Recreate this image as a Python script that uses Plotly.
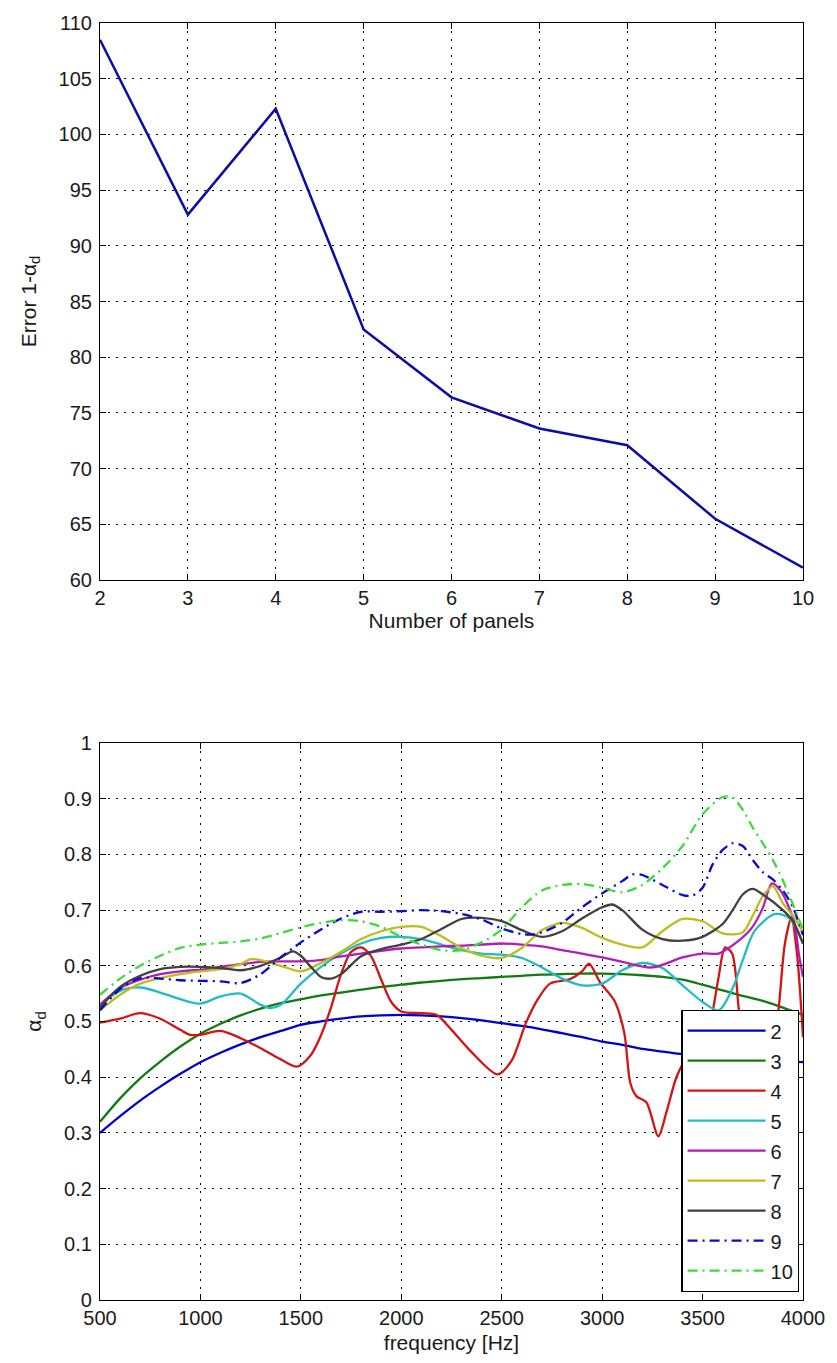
import plotly.graph_objects as go

# ---- top panel: error vs. number of panels ----
panels = [2, 3, 4, 5, 6, 7, 8, 9, 10]
error_vals = [108.5, 92.8, 102.3, 82.5, 76.4, 73.6, 72.1, 65.5, 61.1]

# ---- bottom panel: absorption coefficient vs. frequency, one curve per panel count ----
f2 = [500, 600, 700, 800, 900, 1000, 1100, 1200, 1300, 1400, 1500, 1600, 1700, 1800,
      1900, 2000, 2100, 2200, 2300, 2400, 2500, 2600, 2700, 2800, 2900, 3000, 3100,
      3200, 3300, 3400, 3500, 3600, 3700, 3800, 3900, 4000]
a2 = [0.300, 0.330, 0.358, 0.383, 0.406, 0.427, 0.444, 0.459, 0.472, 0.483, 0.494, 0.500,
      0.505, 0.509, 0.511, 0.512, 0.511, 0.509, 0.506, 0.502, 0.497, 0.492, 0.486, 0.479,
      0.472, 0.464, 0.458, 0.451, 0.446, 0.441, 0.437, 0.434, 0.432, 0.430, 0.429, 0.427]

f3 = f2
a3 = [0.320, 0.362, 0.398, 0.428, 0.455, 0.478, 0.496, 0.511, 0.523, 0.533, 0.540, 0.547,
      0.552, 0.557, 0.562, 0.566, 0.570, 0.573, 0.576, 0.578, 0.580, 0.582, 0.584, 0.585,
      0.586, 0.586, 0.585, 0.583, 0.580, 0.575, 0.566, 0.556, 0.546, 0.537, 0.525, 0.512]

f4 = [500, 600, 700, 800, 900, 950, 1000, 1100, 1200, 1300, 1400, 1480, 1550, 1600, 1650,
      1700, 1750, 1800, 1850, 1900, 1950, 2000, 2100, 2175, 2250, 2350, 2480, 2550, 2620,
      2680, 2740, 2840, 2900, 2935, 2990, 3060, 3110, 3140, 3170, 3220, 3280, 3320, 3370,
      3430, 3500, 3540, 3580, 3612, 3647, 3681, 3720, 3780, 3840, 3878, 3910, 3942, 3970, 4000]
a4 = [0.498, 0.505, 0.515, 0.505, 0.485, 0.476, 0.476, 0.483, 0.470, 0.452, 0.432, 0.419,
      0.440, 0.475, 0.525, 0.585, 0.625, 0.633, 0.617, 0.575, 0.535, 0.518, 0.515, 0.512,
      0.485, 0.445, 0.405, 0.430, 0.497, 0.540, 0.568, 0.576, 0.590, 0.604, 0.570, 0.538,
      0.480, 0.390, 0.366, 0.355, 0.294, 0.337, 0.400, 0.440, 0.460, 0.500, 0.580, 0.633,
      0.622, 0.520, 0.420, 0.380, 0.420, 0.520, 0.640, 0.686, 0.622, 0.472]

f5 = [500, 600, 700, 800, 900, 1000, 1100, 1200, 1300, 1350, 1400, 1500, 1600, 1700, 1800,
      1900, 2000, 2100, 2200, 2300, 2400, 2500, 2600, 2700, 2800, 2900, 3000, 3100, 3200,
      3300, 3400, 3500, 3580, 3650, 3700, 3760, 3860, 3930, 4000]
a5 = [0.530, 0.555, 0.561, 0.552, 0.540, 0.532, 0.545, 0.550, 0.530, 0.524, 0.530, 0.568,
      0.598, 0.622, 0.640, 0.650, 0.652, 0.648, 0.638, 0.628, 0.622, 0.620, 0.614, 0.597,
      0.577, 0.565, 0.568, 0.592, 0.605, 0.596, 0.565, 0.535, 0.520, 0.560, 0.610, 0.663,
      0.693, 0.686, 0.640]

f6 = [500, 600, 700, 800, 900, 1000, 1100, 1200, 1300, 1400, 1500, 1600, 1700, 1800, 1900,
      2000, 2100, 2200, 2300, 2400, 2500, 2600, 2700, 2800, 2900, 3000, 3100, 3250, 3400,
      3500, 3580, 3680, 3745, 3800, 3845, 3890, 3955, 3980, 4000]
a6 = [0.530, 0.560, 0.575, 0.585, 0.590, 0.593, 0.598, 0.603, 0.607, 0.608, 0.608, 0.610,
      0.617, 0.622, 0.627, 0.631, 0.633, 0.635, 0.636, 0.638, 0.640, 0.638, 0.635, 0.628,
      0.622, 0.615, 0.607, 0.597, 0.615, 0.622, 0.622, 0.645, 0.668, 0.704, 0.748, 0.734,
      0.680, 0.620, 0.580]

f7 = [500, 600, 700, 800, 900, 1000, 1100, 1200, 1250, 1300, 1400, 1500, 1600, 1700, 1800,
      1900, 2000, 2100, 2200, 2300, 2400, 2500, 2600, 2700, 2800, 2900, 3000, 3100, 3200,
      3300, 3400, 3500, 3600, 3700, 3750, 3800, 3850, 3900, 3950, 4000]
a7 = [0.520, 0.548, 0.568, 0.578, 0.585, 0.590, 0.594, 0.603, 0.612, 0.610, 0.600, 0.590,
      0.605, 0.625, 0.648, 0.662, 0.670, 0.670, 0.653, 0.632, 0.618, 0.614, 0.632, 0.664,
      0.677, 0.668, 0.650, 0.638, 0.633, 0.662, 0.684, 0.680, 0.658, 0.660, 0.690, 0.725,
      0.743, 0.712, 0.690, 0.660]

f8 = [500, 600, 700, 800, 900, 1000, 1100, 1200, 1300, 1400, 1460, 1500, 1550, 1600, 1650,
      1700, 1800, 1900, 2000, 2100, 2200, 2300, 2400, 2500, 2600, 2700, 2800, 2900, 3000,
      3050, 3100, 3200, 3300, 3400, 3500, 3600, 3650, 3700, 3750, 3800, 3900, 3950, 4000]
a8 = [0.525, 0.562, 0.582, 0.594, 0.598, 0.598, 0.596, 0.592, 0.600, 0.615, 0.626, 0.618,
      0.598, 0.580, 0.577, 0.585, 0.617, 0.630, 0.638, 0.648, 0.666, 0.684, 0.686, 0.680,
      0.664, 0.652, 0.662, 0.685, 0.705, 0.710, 0.700, 0.665, 0.648, 0.645, 0.652, 0.675,
      0.700, 0.728, 0.738, 0.728, 0.700, 0.680, 0.640]

f9 = [500, 600, 700, 800, 900, 1000, 1100, 1200, 1300, 1400, 1500, 1600, 1700, 1800, 1900,
      2000, 2100, 2200, 2300, 2400, 2500, 2600, 2650, 2700, 2800, 2900, 3000, 3100, 3150,
      3200, 3300, 3400, 3450, 3500, 3550, 3600, 3650, 3700, 3750, 3800, 3850, 3900, 3950, 4000]
a9 = [0.520, 0.558, 0.578, 0.577, 0.574, 0.573, 0.572, 0.569, 0.585, 0.615, 0.642, 0.665,
      0.685, 0.697, 0.697, 0.698, 0.700, 0.698, 0.693, 0.683, 0.667, 0.657, 0.656, 0.660,
      0.677, 0.705, 0.730, 0.752, 0.764, 0.763, 0.745, 0.727, 0.726, 0.740, 0.782, 0.808,
      0.820, 0.815, 0.790, 0.768, 0.755, 0.735, 0.705, 0.655]

f10 = [500, 600, 700, 800, 900, 1000, 1100, 1200, 1300, 1400, 1500, 1600, 1700, 1800, 1900,
       2000, 2100, 2200, 2300, 2400, 2500, 2600, 2700, 2800, 2900, 3000, 3100, 3200, 3300,
       3400, 3500, 3600, 3650, 3700, 3750, 3800, 3850, 3900, 3950, 4000]
a10 = [0.548, 0.577, 0.600, 0.618, 0.632, 0.638, 0.641, 0.644, 0.649, 0.659, 0.669, 0.677,
       0.682, 0.680, 0.670, 0.652, 0.638, 0.628, 0.628, 0.642, 0.665, 0.705, 0.735, 0.745,
       0.747, 0.740, 0.732, 0.745, 0.775, 0.815, 0.872, 0.903, 0.902, 0.880, 0.848, 0.820,
       0.790, 0.753, 0.710, 0.665]

series_names = ["2", "3", "4", "5", "6", "7", "8", "9", "10"]
series_freqs = [f2, f3, f4, f5, f6, f7, f8, f9, f10]
series_alpha = [a2, a3, a4, a5, a6, a7, a8, a9, a10]
series_colors = ["#0000CC", "#127A12", "#D41414", "#1FBCC4", "#B41CB8",
                 "#BDBD1E", "#404040", "#0A0ACC", "#3BDB3B"]
series_dash = ["solid"] * 7 + ["10px,5px,2px,5px", "10px,5px,2px,5px"]

x_top_ticks = [2, 3, 4, 5, 6, 7, 8, 9, 10]
y_top_ticks = [60, 65, 70, 75, 80, 85, 90, 95, 100, 105, 110]
x_bot_ticks = [500, 1000, 1500, 2000, 2500, 3000, 3500, 4000]
y_bot_ticks = [0, 0.1, 0.2, 0.3, 0.4, 0.5, 0.6, 0.7, 0.8, 0.9, 1]
y_bot_labels = ["0", "0.1", "0.2", "0.3", "0.4", "0.5", "0.6", "0.7", "0.8", "0.9", "1"]

FONT = "Liberation Sans"
TXT = "#1a1a1a"

fig = go.Figure()

fig.add_trace(go.Scatter(
    x=panels, y=error_vals, mode="lines",
    line=dict(color="#0C0CA8", width=2.5),
    showlegend=False, xaxis="x", yaxis="y",
))

for name, fx, ay, col, dsh in zip(series_names, series_freqs, series_alpha,
                                  series_colors, series_dash):
    fig.add_trace(go.Scatter(
        x=fx, y=ay, mode="lines", name=name,
        line=dict(color=col, width=2.3, dash=dsh, shape="spline", smoothing=0.8),
        xaxis="x2", yaxis="y2", legendgroup=name,
    ))

axis_common = dict(
    showline=True, linecolor="black", linewidth=1.2, mirror="allticks",
    ticks="inside", ticklen=6, tickcolor="black", tickwidth=1,
    showgrid=True, gridcolor="black", gridwidth=1, griddash="2px,6px",
    zeroline=False,
    tickfont=dict(family=FONT, size=20, color=TXT),
)
title_font = dict(family=FONT, size=21, color=TXT)

fig.update_layout(
    width=837, height=1363,
    margin=dict(l=100, r=25, t=16, b=61),
    paper_bgcolor="white", plot_bgcolor="white",
    xaxis=dict(axis_common, domain=[0, 1], anchor="y", range=[2, 10],
               tickvals=x_top_ticks,
               title=dict(text="Number of panels", font=title_font, standoff=4)),
    yaxis=dict(axis_common, domain=[0.5638, 1], anchor="x", range=[60, 110],
               tickvals=y_top_ticks, ticklabelstandoff=3,
               title=dict(text="Error 1-α<sub>d</sub>", font=title_font, standoff=16)),
    xaxis2=dict(axis_common, domain=[0, 1], anchor="y2", range=[500, 4000],
                tickvals=x_bot_ticks,
                title=dict(text="frequency [Hz]", font=title_font, standoff=7)),
    yaxis2=dict(axis_common, domain=[0, 0.4362], anchor="x2", range=[0, 1],
                tickvals=y_bot_ticks, ticktext=y_bot_labels, ticklabelstandoff=3,
                title=dict(text="α<sub>d</sub>", font=title_font, standoff=16)),
    legend=dict(
        x=0.827, y=0.2271, xanchor="left", yanchor="top",
        xref="paper", yref="paper",
        bgcolor="white", bordercolor="black", borderwidth=1.2,
        font=dict(family=FONT, size=20, color=TXT),
        tracegroupgap=1, itemwidth=78,
    ),
)

fig.write_html("out.html")
